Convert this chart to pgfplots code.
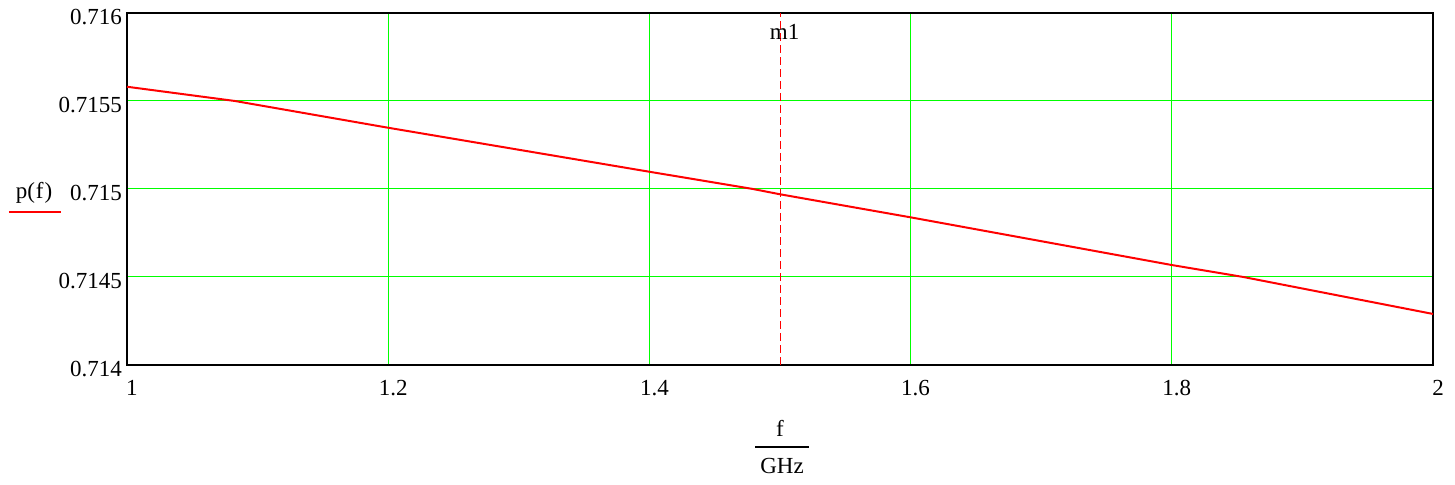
\documentclass[border=0pt]{standalone}
\usepackage{pgfplots}
\pgfplotsset{compat=1.18}
\usepackage{fontspec}
\setmainfont{Liberation Serif}
\definecolor{gridgreen}{RGB}{0,255,0}
\definecolor{mcred}{RGB}{255,0,0}
\begin{document}
\begin{tikzpicture}
\useasboundingbox (-127bp,-120bp) rectangle (1328bp,365bp);
\begin{axis}[
  at={(0,0)}, anchor=south west,
  scale only axis,
  width=1306bp, height=352bp,
  xmin=1, xmax=2, ymin=0.714, ymax=0.716,
  xtick={1,1.2,1.4,1.6,1.8,2},
  xticklabels={1,1.2,1.4,1.6,1.8,2},
  ytick={0.714,0.7145,0.715,0.7155,0.716},
  yticklabels={0.714,0.7145,0.715,0.7155,0.716},
  scaled y ticks=false,
  tick style={draw=none},
  grid=major,
  major grid style={gridgreen, line width=1bp},
  axis line style={black, line width=2bp},
  font=\fontsize{23bp}{27bp}\selectfont,
  xticklabel style={anchor=center, inner sep=0pt, yshift=-23bp, xshift=5bp},
  yticklabel style={anchor=east, inner sep=0pt, xshift=-5bp, yshift=-4bp},
  clip=false,
]
\addplot[mcred, line width=2bp] coordinates {
  (1.0,0.715581) (1.0827,0.7155) (1.2,0.715348) (1.4,0.715098)
  (1.4793,0.7150) (1.5,0.714970) (1.6,0.714839) (1.8,0.714568)
  (1.8548,0.7145) (2.0,0.714290)
};
\addplot[mcred, line width=1bp, dash pattern=on 8bp off 4bp] coordinates {
  (1.5,0.714) (1.5,0.716)
};
\node[font=\fontsize{23bp}{27bp}\selectfont, inner sep=0pt] at (axis cs:1.5035,0.71589) {m1};
\end{axis}
\node[font=\fontsize{23bp}{27bp}\selectfont, inner sep=0pt] at (653bp,-63bp) {f};
\draw[black, line width=1.8bp] (628bp,-82bp) -- (682bp,-82bp);
\node[font=\fontsize{23bp}{27bp}\selectfont, inner sep=0pt] at (655bp,-101bp) {GHz};
\node[font=\fontsize{23bp}{27bp}\selectfont, inner sep=0pt] at (-93bp,172bp) {p(\kern1bp f\kern1bp)};
\draw[mcred, line width=1.6bp] (-118bp,153bp) -- (-66bp,153bp);
\end{tikzpicture}
\end{document}
